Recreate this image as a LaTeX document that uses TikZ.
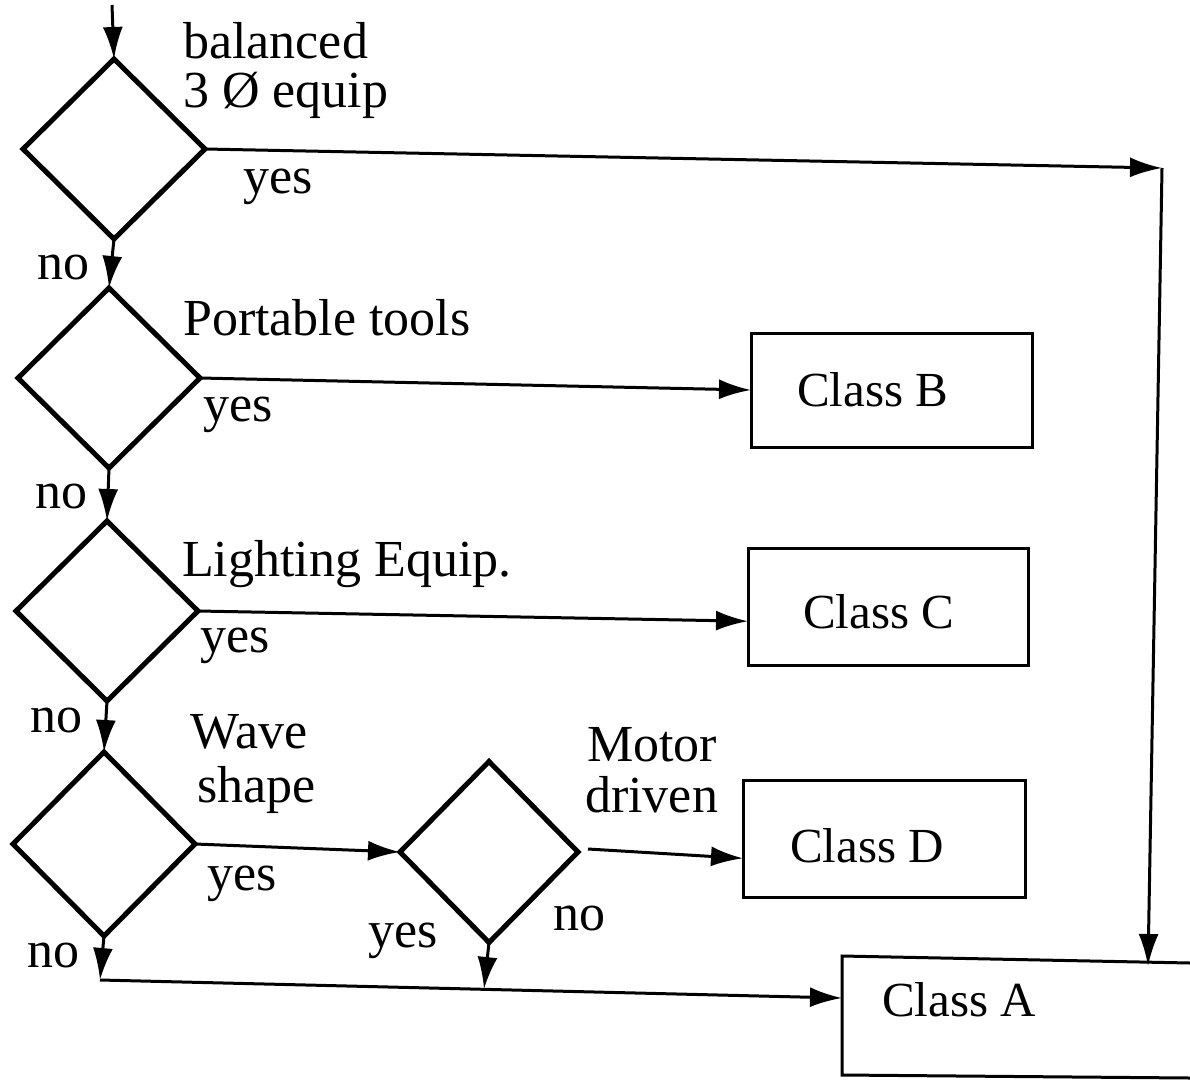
\documentclass[tikz,border=0pt]{standalone}
\usepackage{fontspec}
\setmainfont{Liberation Serif}
\usetikzlibrary{shapes.geometric,arrows.meta}
\begin{document}
\begin{tikzpicture}[x=1pt,y=-1pt,
  dia/.style={diamond,draw,line width=5pt,minimum width=182pt,minimum height=180pt,inner sep=0pt,outer sep=0pt},
  cbox/.style={draw,rectangle,line width=3pt,inner sep=0pt,outer sep=0pt},
  arr/.style={line width=3pt,-{Latex[length=32pt,width=20pt]}},
  ln/.style={line width=3pt},
  lbl/.style={anchor=base west,inner sep=0pt,font=\fontsize{52}{56}\selectfont},
  clbl/.style={anchor=base west,inner sep=0pt,font=\fontsize{49}{54}\selectfont}]
\useasboundingbox (0,0) rectangle (1190,1081);

% decision diamonds
\node[dia] (d1) at (114,149) {};
\node[dia] (d2) at (109,378) {};
\node[dia] (d3) at (107,611) {};
\node[dia,minimum height=184pt] (d4) at (104,844) {};
\node[dia,minimum width=178pt,minimum height=181pt] (d5) at (489,852) {};

% result boxes
\node[cbox,minimum width=281pt,minimum height=114pt] (cb) at (891.5,390) {};
\node[cbox,minimum width=280pt,minimum height=117pt] (cc) at (888,606.5) {};
\node[cbox,minimum width=282pt,minimum height=117pt] (cd) at (884,838.5) {};
\draw[ln] (1190,963) -- (842,956) -- (842,1075) -- (1190,1078);
\coordinate (ca) at (842,998);
\coordinate (catop) at (1148,966);

% box labels
\node[clbl] (tb) at (797,406) {Class B};
\node[clbl] (tc) at (803,628) {Class C};
\node[clbl] (td) at (790,862) {Class D};
\node[clbl] (ta) at (882,1016) {Class A};

% helper coordinates
\coordinate (start) at (112,5);
\coordinate (r1) at (1162,168);
\coordinate (b0) at (100,980);
\coordinate (b5) at (484,989);

% connectors
\draw[arr] (start) -- (d1.north);
\draw[arr] (d1.east) -- (r1);
\draw[arr] (r1) -- (catop);
\draw[arr] (d1.south) -- (d2.north);
\draw[arr] (d2.east) -- (cb.west);
\draw[arr] (d2.south) -- (d3.north);
\draw[arr] (d3.east) -- (cc.186);
\draw[arr] (d3.south) -- (d4.north);
\draw[arr] (d4.east) -- (d5.west);
\draw[arr] ([xshift=10pt,yshift=3pt]d5.east) -- (cd.188);
\draw[arr] (d4.south) -- (b0);
\draw[arr] (b0) -- (ca);
\draw[arr] (d5.south) -- (b5);

% texts
\node[lbl] (q1a) at (183,59) {balanced};
\node[lbl] (q1b) at (183,107) {3 Ø equip};
\node[lbl] (y1) at (243,193) {yes};
\node[lbl] (n1) at (37,279) {no};
\node[lbl] (q2) at (183,335) {Portable tools};
\node[lbl] (y2) at (203,421) {yes};
\node[lbl] (n2) at (35,508) {no};
\node[lbl] (q3) at (182,576) {Lighting Equip.};
\node[lbl] (y3) at (200,652) {yes};
\node[lbl] (n3) at (30,732) {no};
\node[lbl] (q4a) at (190,748) {Wave};
\node[lbl] (q4b) at (197,802) {shape};
\node[lbl] (y4) at (207,890) {yes};
\node[lbl] (n4) at (27,967) {no};
\node[lbl] (q5a) at (587,761) {Motor};
\node[lbl] (q5b) at (585,812) {driven};
\node[lbl] (y5) at (368,947) {yes};
\node[lbl] (n5) at (553,930) {no};
\end{tikzpicture}
\end{document}
